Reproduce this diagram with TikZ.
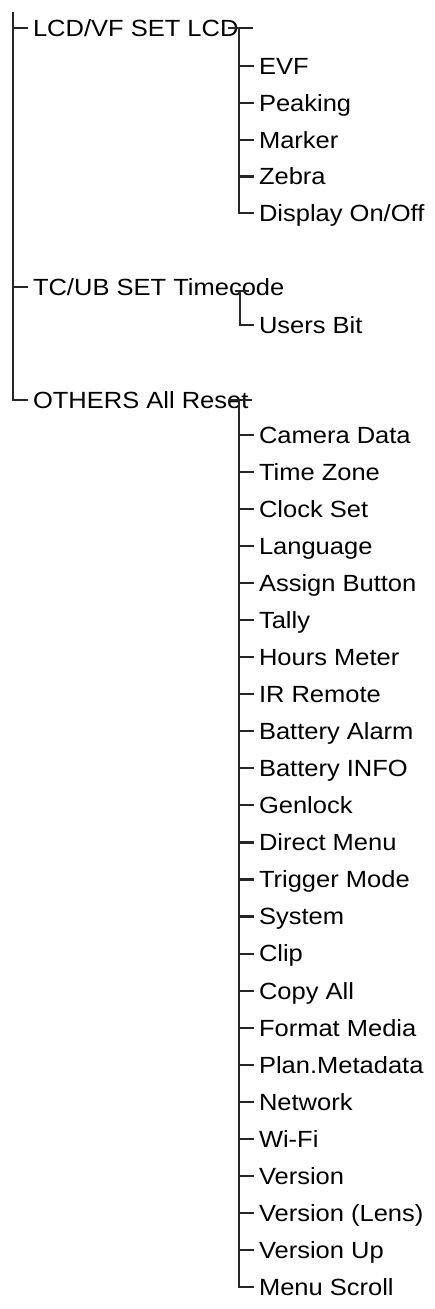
\documentclass[tikz,border=0pt]{standalone}
\usepackage{fontspec}
\setmainfont{Liberation Sans}[FakeStretch=1.09]
\begin{document}
\begin{tikzpicture}[x=1pt,y=1pt,
  item/.style={anchor=west, inner sep=0pt, outer xsep=5pt, text height=16.8pt, text depth=0pt,
    font=\fontsize{23.4}{28}\selectfont, text=black},
  wire/.style={draw=black!85, line width=2.1pt, line cap=butt, line join=miter}]
\useasboundingbox (0,0) rectangle (435,-1309);
% main level
\coordinate (top) at (13,-12);
\node[item] (lcd) at (28,-28) {LCD/VF SET LCD};
\node[item] (tcub) at (28,-287) {TC/UB SET Timecode};
\node[item] (others) at (28,-400) {OTHERS All Reset};
\draw[wire] (top) |- (others.west);
\draw[wire] (top |- lcd.west) -- (lcd.west);
\draw[wire] (top |- tcub.west) -- (tcub.west);
% LCD subtree
\coordinate (lcdfork) at (239,-28);
\node[item] (evf) at (254,-66) {EVF};
\node[item] (peaking) at (254,-103) {Peaking};
\node[item] (marker) at (254,-140) {Marker};
\node[item] (zebra) at (254,-176.5) {Zebra};
\node[item] (display) at (254,-213) {Display On/Off};
\draw[wire] ([xshift=-11pt]lcdfork) -- ([xshift=14pt]lcdfork);
\draw[wire] (lcdfork) |- (display.west);
\foreach \n in {evf,peaking,marker,zebra}
  \draw[wire] (lcdfork |- \n.west) -- (\n.west);
% Timecode subtree
\coordinate (tcfork) at (240,-291);
\node[item] (users) at (254,-325) {Users Bit};
\draw[wire] ([xshift=-5pt]tcfork) -- ([xshift=9pt]tcfork);
\draw[wire] (tcfork) |- (users.west);
% OTHERS subtree
\coordinate (otfork) at (239,-400);
\draw[wire] ([xshift=-10pt]otfork) -- ([xshift=13pt]otfork);
\foreach \t [count=\i from 0] in {Camera Data,Time Zone,Clock Set,Language,Assign Button,Tally,Hours Meter,IR Remote,Battery Alarm,Battery INFO,Genlock,Direct Menu,Trigger Mode,System,Clip,Copy All,Format Media,Plan.Metadata,Network,Wi-Fi,Version,Version (Lens),Version Up}{
  \node[item] (oc\i) at (254,{-435-37.04*\i}) {\t};
  \draw[wire] (otfork |- oc\i.west) -- (oc\i.west);
}
\node[item] (scroll) at (254,-1287) {Menu Scroll};
\draw[wire] (otfork) |- (scroll.west);
\end{tikzpicture}
\end{document}
